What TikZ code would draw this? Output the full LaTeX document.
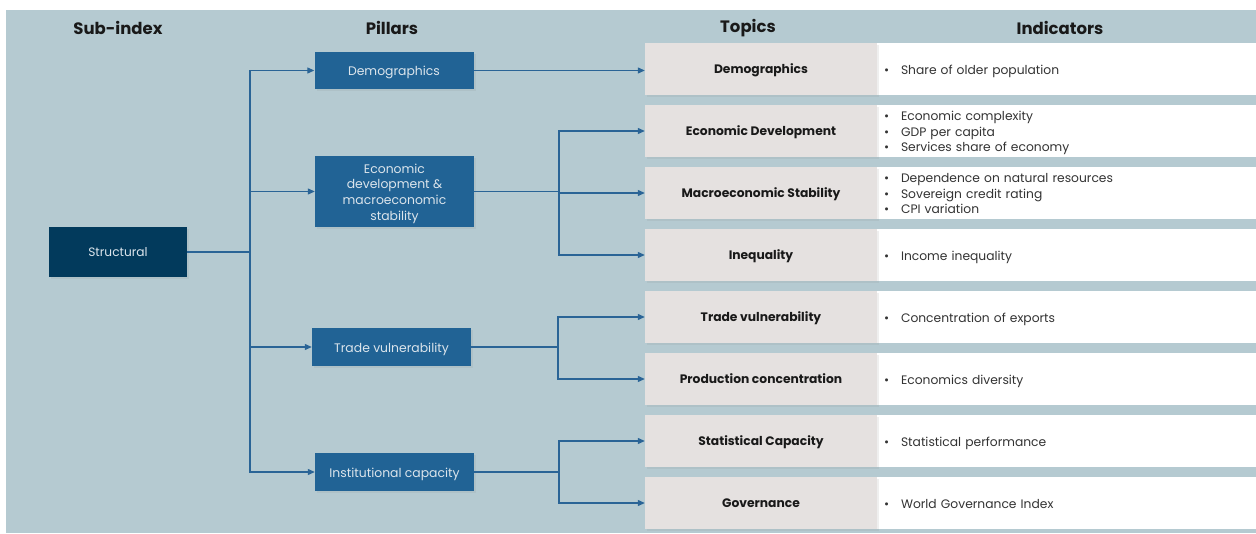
\documentclass[tikz,border=0pt]{standalone}
\usepackage{fontspec}
\setmainfont{Poppins}
\usetikzlibrary{arrows.meta,shadows}
\definecolor{bg}{HTML}{B5CAD1}
\definecolor{dkblue}{HTML}{023A5C}
\definecolor{pblue}{HTML}{216395}
\definecolor{lblue}{HTML}{2A6496}
\definecolor{tgray}{HTML}{E5E1E0}
\definecolor{txtlight}{HTML}{DCE5EC}
\definecolor{indtxt}{HTML}{333333}
\newcommand\indbul{\makebox[17pt][l]{\textbullet}}
\newcommand\lowl[1]{\raisebox{-2pt}[\height][\depth]{\begin{tabular}{@{}l@{}}#1\end{tabular}}}
\newcommand\lowc[1]{\raisebox{-2pt}[\height][\depth]{\begin{tabular}{@{}c@{}}#1\end{tabular}}}
\begin{document}
\begin{tikzpicture}[x=1pt,y=-1pt,
  hdr/.style={font=\bfseries\fontsize{16.5}{19}\selectfont, text=black!90},
  shd/.style={drop shadow={opacity=0.12, shadow xshift=2pt, shadow yshift=-2pt}},
  subbox/.style={shd, fill=dkblue, text=txtlight, minimum width=138pt, minimum height=50pt, inner sep=0pt, font=\fontsize{12.2}{14}\selectfont},
  pillar/.style={shd, fill=pblue, text=txtlight, minimum width=159pt, inner sep=0pt, font=\fontsize{12.4}{15.6}\selectfont},
  topic/.style={shd, fill=tgray, minimum width=232pt, minimum height=52pt, inner sep=0pt, text=black!90, font=\bfseries\fontsize{12.3}{14}\selectfont},
  ind/.style={fill=white, minimum width=379pt, minimum height=52pt, inner xsep=7pt, inner ysep=0pt, text width=365pt, align=left, text=indtxt, font=\fontsize{12.3}{15.5}\selectfont},
  conn/.style={draw=lblue, line width=1.2pt},
  arr/.style={conn, -{Triangle[length=7pt,width=6pt]}}
]
\useasboundingbox (0,0) rectangle (1256,534);
\fill[bg] (6,10) rectangle (1256,533);

% headers
\node[hdr] (h1) at (118,28) {Sub-index};
\node[hdr] (h2) at (392,28) {Pillars};
\node[hdr] (h3) at (748,28) {Topics};
\node[hdr] (h4) at (1060,28) {Indicators};

% sub-index
\node[subbox] (s) at (118,252) {\lowc{Structural}};

% pillars
\node[pillar, minimum height=37pt] (p1) at (394,70.5) {\lowc{Demographics}};
\node[pillar, minimum height=71pt] (p2) at (394.5,191.5) {\lowc{Economic\\development \&\\macroeconomic\\stability}};
\node[pillar, minimum height=38pt] (p3) at (391.5,347) {\lowc{Trade vulnerability}};
\node[pillar, minimum height=38pt] (p4) at (394.5,472) {\lowc{Institutional capacity}};

% indicators
\node[ind] (i1) at (1066.5,69) {\lowl{\indbul Share of older population}};
\node[ind] (i2) at (1066.5,131) {\lowl{\indbul Economic complexity\\\indbul GDP per capita\\\indbul Services share of economy}};
\node[ind] (i3) at (1066.5,193) {\lowl{\indbul Dependence on natural resources\\\indbul Sovereign credit rating\\\indbul CPI variation}};
\node[ind] (i4) at (1066.5,255) {\lowl{\indbul Income inequality}};
\node[ind] (i5) at (1066.5,317) {\lowl{\indbul Concentration of exports}};
\node[ind] (i6) at (1066.5,379) {\lowl{\indbul Economics diversity}};
\node[ind] (i7) at (1066.5,441) {\lowl{\indbul Statistical performance}};
\node[ind] (i8) at (1066.5,503) {\lowl{\indbul World Governance Index}};

% topics
\node[topic] (t1) at (761,69) {\lowc{Demographics}};
\node[topic] (t2) at (761,131) {\lowc{Economic Development}};
\node[topic] (t3) at (761,193) {\lowc{Macroeconomic Stability}};
\node[topic] (t4) at (761,255) {\lowc{Inequality}};
\node[topic] (t5) at (761,317) {\lowc{Trade vulnerability}};
\node[topic] (t6) at (761,379) {\lowc{Production concentration}};
\node[topic] (t7) at (761,441) {\lowc{Statistical Capacity}};
\node[topic] (t8) at (761,503) {\lowc{Governance}};

% trunk from sub-index
\coordinate (tr) at (250,252);
\draw[conn] (s.east) -- (tr);
\draw[arr] (tr) |- (p1.west);
\draw[arr] (tr) |- (p2.west);
\draw[arr] (tr) |- (p3.west);
\draw[arr] (tr) |- (p4.west);

% pillar 1
\draw[arr] (p1.east) -- (p1.east -| t1.west);

% pillar 2
\coordinate (b2) at (559,191.5);
\draw[conn] (p2.east) -- (b2);
\draw[arr] (b2) |- (t2.west);
\draw[arr] (b2) |- (t3.west);
\draw[arr] (b2) |- (t4.west);

% pillar 3
\coordinate (b3) at (558,347);
\draw[conn] (p3.east) -- (b3);
\draw[arr] (b3) |- (t5.west);
\draw[arr] (b3) |- (t6.west);

% pillar 4
\coordinate (b4) at (559,472);
\draw[conn] (p4.east) -- (b4);
\draw[arr] (b4) |- (t7.west);
\draw[arr] (b4) |- (t8.west);
\end{tikzpicture}
\end{document}
